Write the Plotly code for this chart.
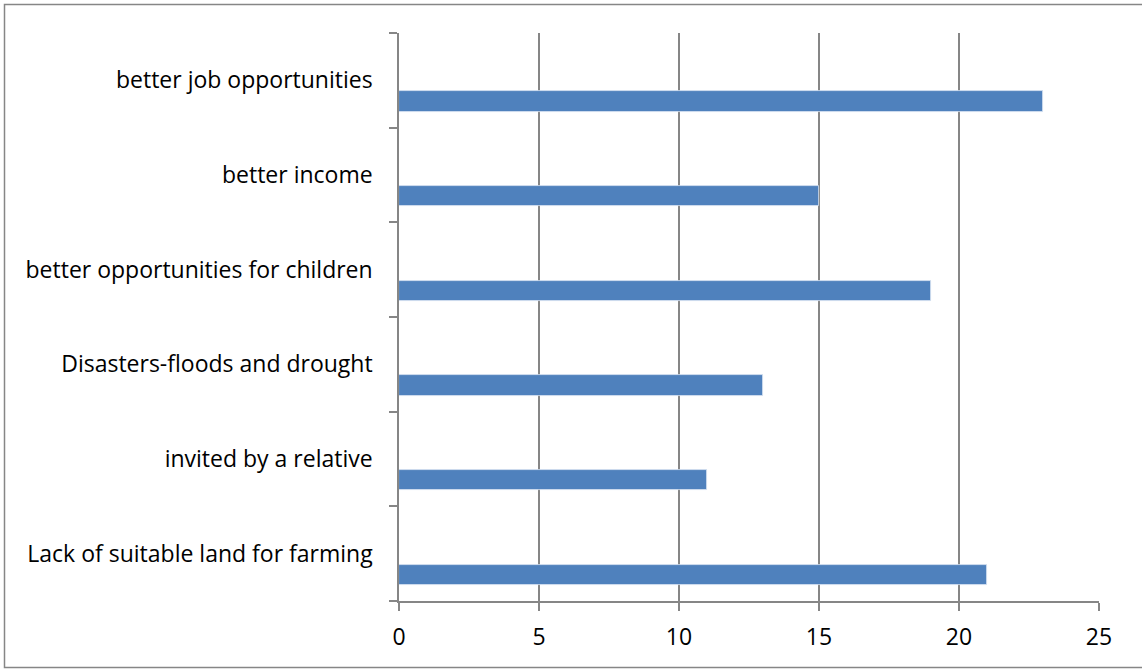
import plotly.graph_objects as go

# Reasons for moving, listed top to bottom as shown on the chart
reasons = [
    "better job opportunities",
    "better income",
    "better opportunities for children",
    "Disasters-floods and drought",
    "invited by a relative",
    "Lack of suitable land for farming",
]
counts = [23, 15, 19, 13, 11, 21]
x_ticks = [0, 5, 10, 15, 20, 25]

W, H = 1142, 671
L, R, T, B = 399, 43, 33, 70
plot_w = W - L - R
plot_h = H - T - B

GREY = "#868686"
BLUE = "#4F81BD"
FONT = "'Open Sans', 'Liberation Sans', sans-serif"
FSIZE = 23

# plot bottom-to-top so the first reason sits at the top
cats = reasons[::-1]
vals = counts[::-1]

fig = go.Figure(
    go.Bar(
        x=vals,
        y=cats,
        orientation="h",
        width=0.215,
        offset=-0.33,
        marker=dict(color=BLUE, line=dict(color="#dbe5f1", width=0.8)),
        hoverinfo="x+y",
    )
)

def px_to_paper_x(px):
    return (px - L) / plot_w

def px_to_paper_y(py):
    return (H - B - py) / plot_h

# outer chart frame
fig.add_shape(
    type="rect",
    xref="paper", yref="paper",
    x0=px_to_paper_x(4.5), x1=px_to_paper_x(1145),
    y0=px_to_paper_y(667.5), y1=px_to_paper_y(4.5),
    line=dict(color=GREY, width=1.5),
    fillcolor="rgba(0,0,0,0)",
    layer="below",
)

fig.update_layout(
    width=W, height=H,
    margin=dict(l=L, r=R, t=T, b=B, pad=0),
    paper_bgcolor="white",
    plot_bgcolor="white",
    showlegend=False,
    font=dict(family=FONT, size=FSIZE, color="black"),
    bargap=0,
)

fig.update_xaxes(
    range=[0, 25],
    tickvals=x_ticks,
    ticktext=[str(v) for v in x_ticks],
    showgrid=True,
    gridcolor=GREY,
    gridwidth=1.5,
    showline=True,
    linecolor=GREY,
    linewidth=1.5,
    zeroline=False,
    ticks="outside",
    ticklen=8,
    tickwidth=1.5,
    tickcolor=GREY,
    ticklabelstandoff=7,
    tickfont=dict(family=FONT, size=FSIZE, color="black"),
    fixedrange=True,
)

fig.update_yaxes(
    type="category",
    categoryorder="array",
    categoryarray=cats,
    range=[-0.5, 5.5],
    tickson="boundaries",
    showgrid=False,
    showline=True,
    linecolor=GREY,
    linewidth=1.5,
    zeroline=False,
    ticks="outside",
    ticklen=8,
    tickwidth=1.5,
    tickcolor=GREY,
    ticklabelstandoff=20,
    tickfont=dict(family=FONT, size=FSIZE, color="black"),
    fixedrange=True,
)

fig.write_html("out.html")
